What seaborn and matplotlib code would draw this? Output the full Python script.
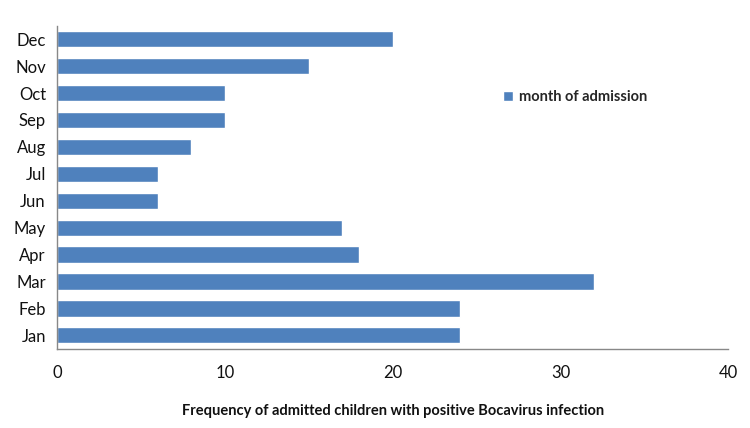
import pandas as pd
import seaborn as sns
import matplotlib.pyplot as plt

months = ['Jan', 'Feb', 'Mar', 'Apr', 'May', 'Jun', 'Jul', 'Aug', 'Sep', 'Oct', 'Nov', 'Dec']
counts = [24, 24, 32, 18, 17, 6, 6, 8, 10, 10, 15, 20]
xticks = [0, 10, 20, 30, 40]

df = pd.DataFrame({'month': months, 'count': counts})

sns.set_style("white")
plt.rcParams['font.family'] = ['Lato', 'DejaVu Sans']

fig = plt.figure(figsize=(7.5, 4.28), dpi=100)
ax = fig.add_axes([0.076, 0.185, 0.895, 0.755])

sns.barplot(data=df, x='count', y='month', order=months[::-1], orient='h',
            color='#4F81BD', saturation=1, width=0.6, label='month of admission', ax=ax)

ax.set_xlim(0, 40)
ax.set_xticks(xticks)
ax.tick_params(axis='both', length=0, labelsize=12, labelcolor='#111111', pad=8)
ax.tick_params(axis='x', pad=12)
ax.set_ylabel('')
ax.set_xlabel('Frequency of admitted children with positive Bocavirus infection',
              fontsize=10.5, fontweight='bold', labelpad=16, color='#111111')
for s in ['top', 'right']:
    ax.spines[s].set_visible(False)
for s in ['left', 'bottom']:
    ax.spines[s].set_color('#888888')
    ax.spines[s].set_linewidth(1)

leg = ax.legend(loc='center left', bbox_to_anchor=(0.645, 0.78), frameon=False,
                handlelength=0.7, handleheight=0.7, handletextpad=0.4,
                prop={'weight': 'bold', 'size': 10.5})

fig.savefig('out.png', dpi=100)
